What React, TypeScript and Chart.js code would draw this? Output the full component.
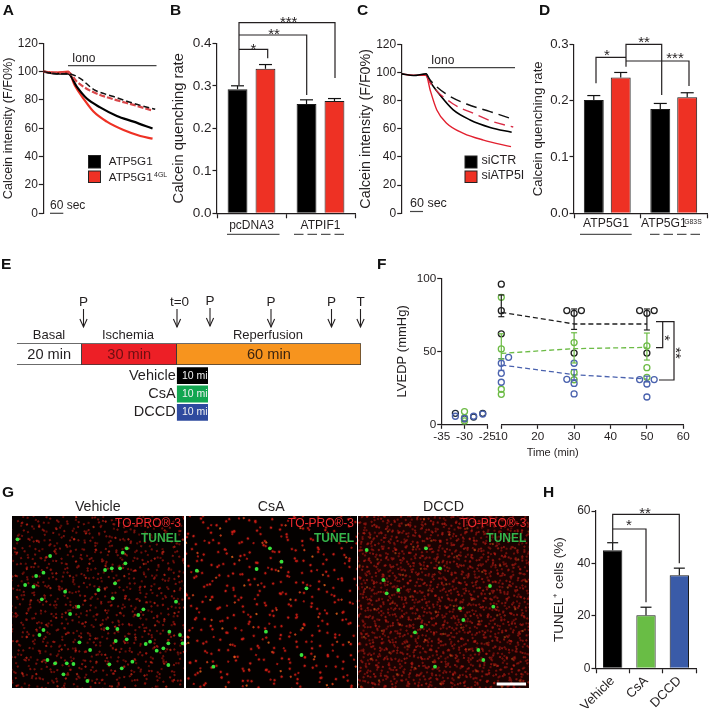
import React, { useEffect, useRef } from "react";
import { Chart, registerables } from "chart.js";

Chart.register(...registerables);

/* ---------- panel A ---------- */
const aBlackSec = [0, 60, 112, 150, 195, 255, 330, 405, 490];
const aBlackVal = [100, 98.5, 98.5, 89.4, 81, 74.8, 68.7, 64.7, 59.8];
const aRedSec = [0, 60, 112, 142, 180, 225, 285, 360, 435, 490];
const aRedVal = [100, 99.3, 100, 90, 81, 71.8, 64.7, 58.8, 54.6, 52.7];
const aBlackDashSec = [0, 60, 112, 165, 225, 315, 405, 502];
const aBlackDashVal = [100, 98.5, 98.5, 95.3, 87.5, 82.4, 77.6, 73.4];
const aRedDashSec = [0, 60, 112, 150, 210, 315, 405, 490];
const aRedDashVal = [100, 99.3, 99.5, 93, 86.6, 80.5, 76.5, 72.5];

/* ---------- panel B ---------- */
const bGroups = ["pcDNA3", "ATPIF1"];
const bBlack = [0.292, 0.257];
const bBlackErr = [0.008, 0.01];
const bRed = [0.34, 0.264];
const bRedErr = [0.01, 0.006];

/* ---------- panel C ---------- */
const cBlackSec = [0, 53, 110, 128, 172, 232, 308, 398, 495];
const cBlackVal = [99, 97.8, 99, 93.5, 84, 73.4, 66.3, 61, 57.5];
const cRedSec = [0, 53, 110, 128, 158, 202, 278, 368, 492];
const cRedVal = [99, 98, 98, 87.6, 73.4, 64, 56.8, 52, 47.3];
const cBlackDashSec = [110, 128, 202, 292, 398, 485];
const cBlackDashVal = [99, 94.7, 84.5, 77.6, 72.2, 67.7];
const cRedDashSec = [110, 135, 232, 322, 412, 502];
const cRedDashVal = [98, 91, 77.6, 71, 65, 61.3];

/* ---------- panel D ---------- */
const dGroups = ["ATP5G1", "ATP5G1"];
const dBlack = [0.201, 0.185];
const dBlackErr = [0.008, 0.01];
const dRed = [0.241, 0.206];
const dRedErr = [0.009, 0.008];

/* ---------- panel E ---------- */
const eSegmentSpans = [20.77, 30.35, 58.88];
const eSegmentLabels = ["20 min", "30 min", "60 min"];
const eTreatments = ["Vehicle", "CsA", "DCCD"];
const eTreatmentMinutes = [10, 10, 10];

/* ---------- panel F ---------- */
const fBasalBlack = [{ x: -32, y: 7.5 }, { x: -30, y: 3.7 }, { x: -28, y: 5 }, { x: -26, y: 7.5 }];
const fBasalGreen = [{ x: -30, y: 8.7 }, { x: -30, y: 2.3 }, { x: -30, y: 4.5 }];
const fBasalBlue = [{ x: -32, y: 5.5 }, { x: -28, y: 5.5 }, { x: -26, y: 7 }, { x: -30, y: 4 }];
const fBlackPts = [
  { x: 10, y: 96 }, { x: 10, y: 77.8 }, { x: 10, y: 62 },
  { x: 28, y: 77.9 }, { x: 30, y: 76 }, { x: 32, y: 77.9 }, { x: 30, y: 48.8 },
  { x: 48, y: 77.9 }, { x: 50, y: 76 }, { x: 52, y: 77.9 }, { x: 50, y: 48.8 },
];
const fGreenPts = [
  { x: 10, y: 87 }, { x: 10, y: 51.6 }, { x: 10, y: 24 }, { x: 10, y: 20.5 },
  { x: 30, y: 56 }, { x: 30, y: 35.5 }, { x: 30, y: 30.5 },
  { x: 50, y: 53.7 }, { x: 50, y: 38.8 }, { x: 50, y: 32.2 },
];
const fBluePts = [
  { x: 12, y: 45.9 }, { x: 10, y: 41.8 }, { x: 10, y: 34.9 }, { x: 10, y: 28.8 },
  { x: 28, y: 30.8 }, { x: 30, y: 41.8 }, { x: 30, y: 28 }, { x: 30, y: 20.8 },
  { x: 48, y: 30.6 }, { x: 52, y: 30.6 }, { x: 50, y: 27.6 }, { x: 50, y: 18.7 },
];
const fTimes = [10, 30, 50];
const fBlackMean = [76.7, 68.7, 68.7];
const fBlackHi = [88.6, 79, 79];
const fBlackLo = [73.7, 65, 64.6];
const fGreenMean = [48.6, 51.8, 52.7];
const fGreenHi = [62, 62.7, 62.5];
const fGreenLo = [44.7, 42, 44];
const fBlueMean = [40.6, 34, 31];
const fBlueHi = [45, 37.5, 33];
const fBlueLo = [37, 30.5, 29];

/* ---------- panel G (bright TUNEL spots, field units) ---------- */
const gVehicleSpots = [
  [52, 178], [108, 288], [100, 320], [130, 278], [125, 358], [118, 465], [130, 450], [142, 540], [165, 550],
  [200, 550], [220, 552], [235, 380], [195, 335], [295, 330], [315, 270], [335, 265], [345, 310], [338, 355],
  [360, 265], [368, 218], [380, 205], [376, 250], [430, 388], [415, 405], [352, 447], [322, 445], [380, 478],
  [347, 483], [437, 492], [450, 485], [508, 455], [528, 365], [540, 465], [505, 490], [490, 505], [470, 512],
  [397, 545], [328, 553], [365, 565], [262, 603], [505, 555], [190, 583], [548, 490], [270, 510], [238, 487],
  [150, 228], [210, 402], [75, 315],
];
const gCsaSpots = [[590, 272], [770, 267], [845, 245], [905, 525], [798, 455], [920, 325], [810, 205], [640, 560]];
const gDccdSpots = [
  [215, 440], [430, 380], [340, 420], [195, 457], [145, 330], [110, 340], [270, 265], [255, 560], [385, 510],
  [400, 540], [420, 318], [50, 210], [228, 205], [330, 385], [100, 300],
];

/* ---------- panel H ---------- */
const hGroups = ["Vehicle", "CsA", "DCCD"];
const hValues = [45, 20.2, 35.5];
const hErrors = [2.9, 3.1, 2.7];

/* ---------- shared style ---------- */
const FONT = '"Liberation Sans"';
const INK = "#231f20";
const RED = "#ee3124";

type Ctx = CanvasRenderingContext2D;

function text(ctx: Ctx, s: string, x: number, y: number, size: number, o: any = {}) {
  ctx.save();
  ctx.font = `${o.bold ? "bold " : ""}${size}px ${FONT}`;
  ctx.fillStyle = o.color || INK;
  ctx.textAlign = o.align || "center";
  ctx.textBaseline = o.base || "middle";
  if (o.halo) {
    ctx.shadowColor = "#000";
    ctx.shadowBlur = 3;
  }
  ctx.fillText(s, x, y);
  ctx.restore();
}
function line(ctx: Ctx, pts: number[][], o: any = {}) {
  ctx.save();
  ctx.strokeStyle = o.color || INK;
  ctx.lineWidth = o.width || 1.2;
  if (o.dash) ctx.setLineDash(o.dash);
  ctx.beginPath();
  pts.forEach((p, i) => (i ? ctx.lineTo(p[0], p[1]) : ctx.moveTo(p[0], p[1])));
  ctx.stroke();
  ctx.restore();
}
function stars(ctx: Ctx, s: string, x: number, y: number, rot = false) {
  ctx.save();
  ctx.translate(x, y);
  if (rot) ctx.rotate(Math.PI / 2);
  text(ctx, s, 0, 7.5, 15, { base: "alphabetic" });
  ctx.restore();
}
function letter(ctx: Ctx, s: string, x: number, y: number) {
  text(ctx, s, x, y, 15.5, { bold: true, align: "left", base: "alphabetic", color: "#111" });
}
function swatch(ctx: Ctx, x: number, y: number, w: number, h: number, color: string) {
  ctx.fillStyle = color;
  ctx.fillRect(x, y, w, h);
  ctx.strokeStyle = "#222";
  ctx.lineWidth = 1;
  ctx.strokeRect(x, y, w, h);
}
function arrow(ctx: Ctx, x: number, y0: number, y1: number) {
  line(ctx, [[x, y0], [x, y1]], { width: 1.1 });
  line(ctx, [[x - 3.6, y1 - 8], [x, y1], [x + 3.6, y1 - 8]], { width: 1.1 });
}

const overlay = (draw: (ctx: Ctx, chart: any) => void) => ({
  id: "overlay",
  afterDraw(chart: any) {
    draw(chart.ctx, chart);
  },
});

const whiskers = {
  id: "whiskers",
  afterDatasetsDraw(chart: any) {
    const ctx = chart.ctx;
    const y = chart.scales.y;
    chart.data.datasets.forEach((ds: any, i: number) => {
      if (!ds.errors) return;
      chart.getDatasetMeta(i).data.forEach((bar: any, j: number) => {
        const base = ds.data[j];
        const top = y.getPixelForValue(base + ds.errors[j]);
        const cap = ds.capHalf || 6;
        line(ctx, [[bar.x, y.getPixelForValue(base)], [bar.x, top]], { color: "#111" });
        line(ctx, [[bar.x - cap, top], [bar.x + cap, top]], { color: "#111" });
      });
    });
  },
};

const rangeBars = {
  id: "rangeBars",
  afterDatasetsDraw(chart: any) {
    const ctx = chart.ctx;
    const { x, y } = chart.scales;
    chart.data.datasets.forEach((ds: any) => {
      if (!ds.hi) return;
      ds.data.forEach((p: any, j: number) => {
        const px = x.getPixelForValue(p.x);
        const a = y.getPixelForValue(ds.hi[j]);
        const b = y.getPixelForValue(ds.lo[j]);
        line(ctx, [[px, a], [px, b]], { color: ds.borderColor, width: 1.2 });
        line(ctx, [[px - 3, a], [px + 3, a]], { color: ds.borderColor, width: 1.2 });
        line(ctx, [[px - 3, b], [px + 3, b]], { color: ds.borderColor, width: 1.2 });
      });
    });
  },
};

type Rect = { l: number; t: number; r: number; b: number };

function frame(rect: Rect, titleCx?: number, titleSize?: number, xh = 0) {
  const lead = titleCx !== undefined ? titleCx - 0.6 * (titleSize || 12) : rect.l;
  return {
    lead,
    layout: {
      padding: { left: lead, top: rect.t, right: 709 - rect.r, bottom: 709 - rect.b - xh },
    },
  };
}

function yAxis(rect: Rect, lead: number, o: any) {
  return {
    min: o.min,
    max: o.max,
    afterFit(s: any) {
      s.width = rect.l - lead;
    },
    border: { display: true, color: INK, width: 1.2 },
    grid: { drawOnChartArea: false, tickLength: 4.5, tickColor: INK, tickWidth: 1.2 },
    ticks: {
      stepSize: o.step,
      autoSkip: false,
      padding: 1,
      color: INK,
      font: { size: o.size, family: FONT },
      callback: o.fmt,
    },
    title: o.title
      ? { display: true, text: o.title, color: INK, padding: 0, font: { size: o.titleSize, family: FONT } }
      : { display: false },
  };
}

function xCat(o: any) {
  return {
    afterFit(s: any) {
      s.height = o.h;
    },
    border: { display: true, color: INK, width: 1.2 },
    grid: { offset: true, drawOnChartArea: false, tickLength: 5, tickColor: INK, tickWidth: 1.2 },
    ticks: {
      display: o.labels !== false,
      autoSkip: false,
      padding: o.padding ?? 0,
      maxRotation: o.rot ?? 0,
      minRotation: o.rot ?? 0,
      color: INK,
      font: { size: o.size || 12, family: FONT },
    },
  };
}

const zip = (xs: number[], ys: number[]) => xs.map((x, i) => ({ x, y: ys[i] }));

function curve(xs: number[], ys: number[], color: string, width: number, dash?: number[]) {
  return {
    data: zip(xs, ys),
    borderColor: color,
    borderWidth: width,
    borderDash: dash || [],
    pointRadius: 0,
    cubicInterpolationMode: "monotone",
    fill: false,
  };
}

function curveChart(rect: Rect, titleCx: number, titleSize: number, datasets: any[], draw: any) {
  const f = frame(rect, titleCx, titleSize);
  return {
    type: "line",
    data: { datasets },
    options: {
      animation: false,
      responsive: false,
      layout: f.layout,
      plugins: { legend: { display: false }, tooltip: { enabled: false } },
      scales: {
        x: { type: "linear", display: false, min: 0, max: 510 },
        y: yAxis(rect, f.lead, {
          min: 0, max: 120, step: 20, size: 12,
          title: "Calcein intensity (F/F0%)", titleSize,
        }),
      },
    },
    plugins: [overlay(draw)],
  };
}

function barPair(groups: string[], a: number[], aErr: number[], b: number[], bErr: number[], cat: number, bar: number) {
  const base = { categoryPercentage: cat, barPercentage: bar, borderColor: "#1a1a1a", borderWidth: 1, capHalf: 6.5 };
  return {
    labels: groups,
    datasets: [
      { ...base, data: a, errors: aErr, backgroundColor: "#000" },
      { ...base, data: b, errors: bErr, backgroundColor: RED },
    ],
  };
}

const scatterSet = (data: any[], color: string) => ({
  type: "scatter",
  data,
  showLine: false,
  borderColor: color,
  backgroundColor: "transparent",
  pointBorderColor: color,
  pointBackgroundColor: "transparent",
  pointBorderWidth: 1.3,
  pointRadius: 3,
  clip: false,
});
const meanSet = (means: number[], hi: number[], lo: number[], color: string) => ({
  type: "line",
  data: zip(fTimes, means),
  hi,
  lo,
  borderColor: color,
  borderWidth: 1.3,
  borderDash: [5, 3],
  pointRadius: 0,
  tension: 0,
  fill: false,
  clip: false,
});

function spotChart(rect: Rect, spots: number[][], xr: number[], yr: number[], title: string, extra?: (c: Ctx) => void) {
  return {
    type: "scatter",
    data: {
      datasets: [
        {
          data: spots.map(([x, y]) => ({ x, y })),
          pointRadius: 1.9,
          pointBorderWidth: 0,
          pointBackgroundColor: "#38e23c",
        },
      ],
    },
    options: {
      animation: false,
      responsive: false,
      layout: { padding: { left: rect.l, top: rect.t, right: 709 - rect.r, bottom: 709 - rect.b } },
      plugins: { legend: { display: false }, tooltip: { enabled: false } },
      scales: {
        x: { type: "linear", display: false, min: xr[0], max: xr[1] },
        y: { type: "linear", display: false, reverse: true, min: yr[0], max: yr[1] },
      },
    },
    plugins: [
      overlay((ctx) => {
        text(ctx, title, (rect.l + rect.r) / 2, 507, 14.2);
        text(ctx, "TO-PRO®-3", rect.r - 3, 524, 12, { align: "right", color: "#ee2a2e", halo: true });
        text(ctx, "TUNEL", rect.r - 3, 539, 12, { align: "right", color: "#35b44a", bold: true, halo: true });
        if (extra) extra(ctx);
      }),
    ],
  };
}

function buildConfigs(): any[] {
  const rA = { l: 43.3, t: 43.3, r: 157, b: 213.3 };
  const rB = { l: 217, t: 43.3, r: 355, b: 213.3 };
  const rC = { l: 401.7, t: 44.3, r: 515, b: 213.3 };
  const rD = { l: 574, t: 44.3, r: 707, b: 213.3 };
  const rF1 = { l: 441.7, t: 278.3, r: 487.3, b: 424.3 };
  const rF2 = { l: 501.3, t: 278.3, r: 683.3, b: 424.3 };
  const rH = { l: 596, t: 511, r: 696, b: 668.3 };
  const rE = { l: 16.7, t: 343.3, r: 361, b: 365 };
  const rE2 = { l: 176.7, t: 366.5, r: 208, b: 421.5 };
  const fB = frame(rB, 179, 14.7, 30);
  const fD = frame(rD, 538, 13.2, 30);
  const fF = frame(rF1, 402, 13, 24);
  const fH = frame(rH, 559, 13.5, 40);

  const a = curveChart(
    rA, 8, 12.7,
    [
      curve(aBlackDashSec, aBlackDashVal, "#111", 1.5, [6, 3]),
      curve(aRedDashSec, aRedDashVal, "#d9474a", 2.2, [6, 2]),
      curve(aBlackSec, aBlackVal, "#000", 2.2),
      curve(aRedSec, aRedVal, RED, 2.2),
    ],
    (ctx: Ctx) => {
      letter(ctx, "A", 2.7, 15);
      text(ctx, "Iono", 72, 58.5, 12, { align: "left" });
      line(ctx, [[68, 65.7], [156.5, 65.7]], { color: "#444" });
      line(ctx, [[50, 213.3], [63.3, 213.3]], { color: "#444" });
      text(ctx, "60 sec", 50, 205.5, 12, { align: "left" });
      swatch(ctx, 88.5, 155.5, 12, 12.5, "#000");
      swatch(ctx, 88.5, 171, 12, 11.5, RED);
      text(ctx, "ATP5G1", 108.7, 161.5, 11.7, { align: "left" });
      text(ctx, "ATP5G1", 108.7, 177.5, 11.7, { align: "left" });
      text(ctx, "4GL", 154, 175, 7, { align: "left" });
    }
  );

  const b = {
    type: "bar",
    data: barPair(bGroups, bBlack, bBlackErr, bRed, bRedErr, 0.81, 0.71),
    options: {
      animation: false,
      responsive: false,
      layout: fB.layout,
      plugins: { legend: { display: false }, tooltip: { enabled: false } },
      scales: {
        x: xCat({ size: 12, h: 30 }),
        y: yAxis(rB, fB.lead, {
          min: 0, max: 0.4, step: 0.1, size: 13.5,
          fmt: (v: number) => Number(v).toFixed(1),
          title: "Calcein quenching rate", titleSize: 14.7,
        }),
      },
    },
    plugins: [
      whiskers,
      overlay((ctx) => {
        letter(ctx, "B", 170, 15);
        line(ctx, [[239, 85], [239, 22.7], [335, 22.7], [335, 78]]);
        line(ctx, [[239, 35], [306.7, 35], [306.7, 95]]);
        line(ctx, [[239, 49.3], [267.7, 49.3], [267.7, 58.3]]);
        stars(ctx, "***", 288.7, 19);
        stars(ctx, "**", 274, 31.5);
        stars(ctx, "*", 253.5, 46);
        line(ctx, [[227, 234.3], [279.5, 234.3]], { color: "#555" });
        line(ctx, [[294, 234.3], [347, 234.3]], { color: "#555", dash: [9.5, 4] });
      }),
    ],
  };

  const c = curveChart(
    rC, 366, 14.3,
    [
      curve(cBlackDashSec, cBlackDashVal, "#111", 1.4, [11, 6]),
      curve(cRedDashSec, cRedDashVal, "#d92b45", 1.4, [11, 6]),
      curve(cBlackSec, cBlackVal, "#000", 1.6),
      curve(cRedSec, cRedVal, "#e2202f", 1.4),
    ],
    (ctx: Ctx) => {
      letter(ctx, "C", 357, 15);
      text(ctx, "Iono", 431, 61, 12, { align: "left" });
      line(ctx, [[428, 67.7], [515, 67.7]], { color: "#444" });
      line(ctx, [[410, 211.5], [423, 211.5]], { color: "#444" });
      text(ctx, "60 sec", 410, 204, 12.5, { align: "left" });
      swatch(ctx, 465, 156, 12, 12, "#000");
      swatch(ctx, 465, 171, 12, 11.5, RED);
      text(ctx, "siCTR", 481.5, 160.5, 12.5, { align: "left" });
      text(ctx, "siATP5I", 481.5, 176, 12.5, { align: "left" });
    }
  );

  const d = {
    type: "bar",
    data: barPair(dGroups, dBlack, dBlackErr, dRed, dRedErr, 0.81, 0.74),
    options: {
      animation: false,
      responsive: false,
      layout: fD.layout,
      plugins: { legend: { display: false }, tooltip: { enabled: false } },
      scales: {
        x: xCat({ labels: false, h: 30 }),
        y: yAxis(rD, fD.lead, {
          min: 0, max: 0.3, step: 0.1, size: 13.2,
          fmt: (v: number) => Number(v).toFixed(1),
          title: "Calcein quenching rate", titleSize: 13.2,
        }),
      },
    },
    plugins: [
      whiskers,
      overlay((ctx) => {
        letter(ctx, "D", 539, 15);
        line(ctx, [[596, 83.3], [596, 57.3], [626, 57.3]]);
        line(ctx, [[626, 66.7], [626, 44.3], [661.7, 44.3], [661.7, 95]]);
        line(ctx, [[626, 61], [689, 61], [689, 86]]);
        stars(ctx, "*", 607, 52.5);
        stars(ctx, "**", 644, 39);
        stars(ctx, "***", 675, 55);
        text(ctx, dGroups[0], 606, 224, 12.2);
        text(ctx, dGroups[1], 641, 224, 12.2, { align: "left" });
        text(ctx, "G83S", 684.3, 222, 6.8, { align: "left" });
        line(ctx, [[580, 234.3], [631.7, 234.3]], { color: "#555" });
        line(ctx, [[650, 234.3], [702.7, 234.3]], { color: "#555", dash: [9.5, 4] });
      }),
    ],
  };

  const eColors = ["#ffffff", "#ed1f26", "#f7941e"];
  const eInk = ["#231f20", "#6d0f12", "#3b2410"];
  const e = {
    type: "bar",
    data: {
      labels: ["timeline"],
      datasets: eSegmentSpans.map((v, i) => ({
        data: [v],
        backgroundColor: eColors[i],
        borderColor: "#3a3a3a",
        borderWidth: 1,
        barPercentage: 1,
        categoryPercentage: 1,
      })),
    },
    options: {
      indexAxis: "y",
      animation: false,
      responsive: false,
      layout: frame(rE).layout,
      plugins: { legend: { display: false }, tooltip: { enabled: false } },
      scales: {
        x: { stacked: true, display: false, min: 0, max: 110 },
        y: { stacked: true, display: false },
      },
    },
    plugins: [
      overlay((ctx, chart) => {
        letter(ctx, "E", 1, 269);
        eSegmentLabels.forEach((s, i) => {
          const bar = chart.getDatasetMeta(i).data[0];
          text(ctx, s, (bar.x + bar.base) / 2, 354.5, 14.6, { color: eInk[i] });
        });
        text(ctx, "Basal", 49, 335.7, 13);
        text(ctx, "Ischemia", 128, 335.7, 13);
        text(ctx, "Reperfusion", 268, 335.7, 13);
        text(ctx, "P", 83.5, 302, 13.5);
        arrow(ctx, 83.5, 309, 327);
        text(ctx, "t=0", 179.5, 302, 13.5);
        arrow(ctx, 177, 309, 327);
        text(ctx, "P", 210, 301, 13.5);
        arrow(ctx, 210, 308, 326);
        text(ctx, "P", 271, 302, 13.5);
        arrow(ctx, 271, 309, 327);
        text(ctx, "P", 331.5, 302, 13.5);
        arrow(ctx, 331.5, 309, 327);
        text(ctx, "T", 360.5, 302, 13.5);
        arrow(ctx, 360.5, 309, 327);
      }),
    ],
  };

  const e2 = {
    type: "bar",
    data: {
      labels: eTreatments,
      datasets: [
        {
          data: eTreatmentMinutes,
          backgroundColor: ["#000000", "#12a650", "#2e4a9e"],
          barPercentage: 0.92,
          categoryPercentage: 1,
        },
      ],
    },
    options: {
      indexAxis: "y",
      animation: false,
      responsive: false,
      layout: frame(rE2, 100, 14.5).layout,
      plugins: { legend: { display: false }, tooltip: { enabled: false } },
      scales: {
        x: { display: false, min: 0, max: 10 },
        y: {
          afterFit(s: any) {
            s.width = rE2.l - frame(rE2, 100, 14.5).lead;
          },
          border: { display: false },
          grid: { display: false, drawTicks: false },
          ticks: { autoSkip: false, padding: 1, color: INK, font: { size: 14.5, family: FONT } },
        },
      },
    },
    plugins: [
      overlay((ctx, chart) => {
        chart.getDatasetMeta(0).data.forEach((bar: any) => {
          ctx.save();
          ctx.beginPath();
          ctx.rect(rE2.l, bar.y - 9, rE2.r - rE2.l, 18);
          ctx.clip();
          text(ctx, "10 min", 182, bar.y, 10.5, { align: "left", color: "#f2f2f2" });
          ctx.restore();
        });
      }),
    ],
  };

  const axisF = { color: INK, autoSkip: false, padding: 1, maxRotation: 0, font: { size: 11.7, family: FONT } };
  const f1 = {
    type: "scatter",
    data: {
      datasets: [
        scatterSet(fBasalBlue, "#4a62ae"),
        scatterSet(fBasalGreen, "#6cbb45"),
        scatterSet(fBasalBlack, "#1d2a3a"),
      ],
    },
    options: {
      animation: false,
      responsive: false,
      layout: fF.layout,
      plugins: { legend: { display: false }, tooltip: { enabled: false } },
      scales: {
        x: {
          type: "linear",
          min: -35,
          max: -25,
          afterFit(s: any) { s.height = 24; },
          border: { display: true, color: INK, width: 1.2 },
          grid: { drawOnChartArea: false, tickLength: 4.5, tickColor: INK, tickWidth: 1.2 },
          ticks: { ...axisF, stepSize: 5 },
        },
        y: yAxis(rF1, fF.lead, { min: 0, max: 100, step: 50, size: 11.7, title: "LVEDP (mmHg)", titleSize: 13 }),
      },
    },
    plugins: [overlay((ctx) => letter(ctx, "F", 377, 269))],
  };
  const f2 = {
    type: "scatter",
    data: {
      datasets: [
        scatterSet(fBluePts, "#4a62ae"),
        scatterSet(fGreenPts, "#6cbb45"),
        scatterSet(fBlackPts, "#1f1f1f"),
        meanSet(fBlueMean, fBlueHi, fBlueLo, "#4a62ae"),
        meanSet(fGreenMean, fGreenHi, fGreenLo, "#6cbb45"),
        meanSet(fBlackMean, fBlackHi, fBlackLo, "#1f1f1f"),
      ],
    },
    options: {
      animation: false,
      responsive: false,
      layout: frame(rF2, undefined, undefined, 24).layout,
      plugins: { legend: { display: false }, tooltip: { enabled: false } },
      scales: {
        x: {
          type: "linear",
          min: 10,
          max: 60,
          afterFit(s: any) { s.height = 24; },
          border: { display: true, color: INK, width: 1.2 },
          grid: { drawOnChartArea: false, tickLength: 4.5, tickColor: INK, tickWidth: 1.2 },
          ticks: { ...axisF, stepSize: 10 },
        },
        y: { display: false, min: 0, max: 100 },
      },
    },
    plugins: [
      rangeBars,
      overlay((ctx) => {
        text(ctx, "Time (min)", 552.7, 452.7, 11);
        line(ctx, [[656, 321.7], [674, 321.7], [674, 380], [659, 380]]);
        line(ctx, [[662.7, 321.7], [662.7, 347.7], [656, 347.7]]);
        stars(ctx, "*", 667.5, 338, true);
        stars(ctx, "**", 678.5, 353, true);
      }),
    ],
  };

  const rG1 = { l: 11.5, t: 516, r: 184, b: 688 };
  const rG2 = { l: 185.5, t: 516, r: 357, b: 688 };
  const rG3 = { l: 357.7, t: 516, r: 529.3, b: 688 };
  const g1 = spotChart(rG1, gVehicleSpots, [34, 552], [108, 624], "Vehicle", (ctx) => letter(ctx, "G", 2, 497));
  const g2 = spotChart(rG2, gCsaSpots, [556, 1072], [108, 624], "CsA");
  const g3 = spotChart(rG3, gDccdSpots, [23, 538], [108, 624], "DCCD", (ctx) => {
    ctx.fillStyle = "#ffffff";
    ctx.fillRect(496.7, 682.5, 29.3, 3);
  });

  const h = {
    type: "bar",
    data: {
      labels: hGroups,
      datasets: [
        {
          data: hValues,
          errors: hErrors,
          capHalf: 5.5,
          backgroundColor: ["#000000", "#69bd45", "#3a5ba8"],
          borderColor: "#1a1a1a",
          borderWidth: 1,
          barPercentage: 0.58,
          categoryPercentage: 1,
        },
      ],
    },
    options: {
      animation: false,
      responsive: false,
      layout: fH.layout,
      plugins: { legend: { display: false }, tooltip: { enabled: false } },
      scales: {
        x: xCat({ size: 13, rot: 45, padding: 0, h: 40 }),
        y: yAxis(rH, fH.lead, { min: 0, max: 60, step: 20, size: 12, title: "TUNEL⁺ cells (%)", titleSize: 13.5 }),
      },
    },
    plugins: [
      whiskers,
      overlay((ctx) => {
        letter(ctx, "H", 543, 497);
        line(ctx, [[612.7, 542], [612.7, 514.3], [679.3, 514.3], [679.3, 563.3]]);
        line(ctx, [[612.7, 529], [646, 529], [646, 602.3]]);
        stars(ctx, "**", 645, 510);
        stars(ctx, "*", 629, 522.7);
      }),
    ],
  };

  return [a, b, c, d, e, e2, f1, f2, g1, g2, g3, h];
}

/* Micrograph backdrop: a purely decorative CSS texture behind the plotted spots. */
const dots = (c: string, px: number, w: number, h: number, ox: number, oy: number) =>
  `radial-gradient(circle at ${ox}px ${oy}px, ${c} 0, ${c} ${px}px, transparent ${px + 0.8}px) 0 0 / ${w}px ${h}px`;

const fieldStyles: { rect: number[]; base: string; alpha: number; layers: { rot: number; background: string }[] }[] = [
  {
    rect: [11.5, 516, 172.5, 172],
    base: "#060100",
    alpha: 0.72,
    layers: [
      { rot: 17, background: [dots("#d8201a", 0.5, 11, 13, 2, 3), dots("#a81410", 0.6, 17, 19, 9, 12)].join(",") },
      { rot: -31, background: [dots("#cc1c14", 0.5, 13, 11, 6, 2), dots("#e0281a", 0.7, 23, 19, 4, 7)].join(",") },
      { rot: 58, background: [dots("#b81812", 0.6, 11, 17, 9, 7), dots("#d8301a", 0.8, 29, 23, 4, 12)].join(",") },
      { rot: 103, background: [dots("#901008", 0.6, 9, 13, 3, 5)].join(",") },
    ],
  },
  {
    rect: [185.5, 516, 171.5, 172],
    base: "#040100",
    alpha: 0.85,
    layers: [
      { rot: 23, background: [dots("#e2221a", 0.9, 17, 19, 3, 4), dots("#b81812", 0.8, 23, 17, 8, 3)].join(",") },
      { rot: -37, background: [dots("#d81e14", 0.9, 19, 13, 8, 3), dots("#d4421a", 0.8, 29, 31, 11, 9)].join(",") },
      { rot: 67, background: [dots("#c81a12", 0.9, 13, 23, 2, 9), dots("#e2601a", 0.7, 31, 37, 5, 20)].join(",") },
    ],
  },
  {
    rect: [357.7, 516, 171.6, 172],
    base: "#1a0302",
    alpha: 0.62,
    layers: [
      { rot: 13, background: [dots("#d8201a", 0.6, 7, 9, 1, 2), dots("#a81410", 0.6, 11, 7, 4, 1)].join(",") },
      { rot: -41, background: [dots("#c01a12", 0.6, 9, 7, 4, 1), dots("#e0281a", 0.6, 13, 11, 2, 5)].join(",") },
      { rot: 71, background: [dots("#b01610", 0.6, 7, 11, 2, 5), dots("#d8601a", 0.6, 23, 19, 9, 7)].join(",") },
    ],
  },
];

export default function App() {
  const host = useRef<HTMLDivElement>(null);
  useEffect(() => {
    const el = host.current!;
    const charts = buildConfigs().map((cfg) => {
      const canvas = document.createElement("canvas");
      canvas.width = 709;
      canvas.height = 709;
      canvas.style.cssText = "position:absolute;left:0;top:0;width:709px;height:709px";
      el.appendChild(canvas);
      return new Chart(canvas, { ...cfg, options: { ...cfg.options, devicePixelRatio: 1 } });
    });
    return () => {
      charts.forEach((c) => {
        const cv = c.canvas;
        c.destroy();
        cv.remove();
      });
    };
  }, []);
  return (
    <div style={{ position: "absolute", left: 0, top: 0, width: 709, height: 709, background: "#fff", overflow: "hidden", filter: "blur(0.3px)" }}>
      {fieldStyles.map((f, i) => (
        <div
          key={i}
          style={{
            position: "absolute",
            left: f.rect[0],
            top: f.rect[1],
            width: f.rect[2],
            height: f.rect[3],
            background: f.base,
            overflow: "hidden",
          }}
        >
          {f.layers.map((l, j) => (
            <div
              key={j}
              style={{
                position: "absolute",
                left: -100,
                top: -100,
                width: 372,
                height: 372,
                background: l.background,
                opacity: f.alpha,
                transform: `rotate(${l.rot}deg)`,
              }}
            />
          ))}
        </div>
      ))}
      <div ref={host} style={{ position: "absolute", left: 0, top: 0, width: 709, height: 709 }} />
    </div>
  );
}
